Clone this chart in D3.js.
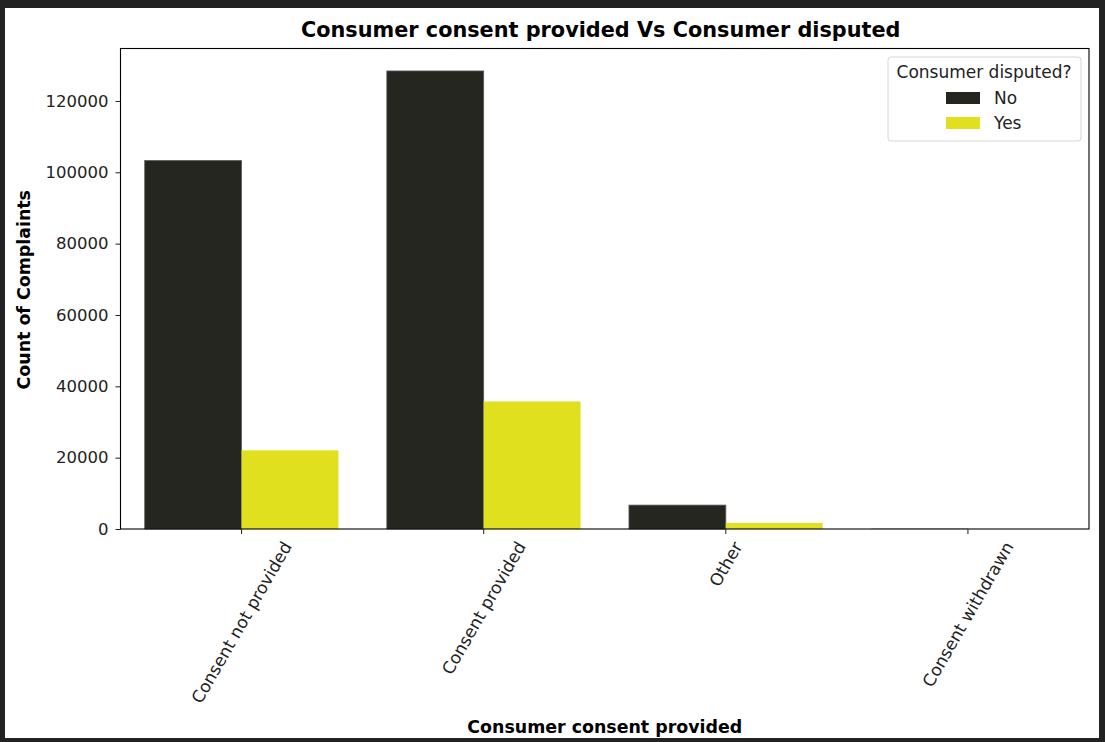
<!DOCTYPE html>
<html>
<head>
<meta charset="utf-8">
<script src="https://cdn.jsdelivr.net/npm/d3@7"></script>
<style>
  html, body { margin: 0; padding: 0; background: #222222; }
  svg { display: block; font-family: "DejaVu Sans", sans-serif; }
</style>
</head>
<body>
<svg id="chart" width="1105" height="742"></svg>
<script>
const categories = ["Consent not provided", "Consent provided", "Other", "Consent withdrawn"];
const groups = ["No", "Yes"];
const noCounts = [103300, 128400, 6700, 60];
const yesCounts = [22050, 35750, 1700, 15];
const yTicks = [0, 20000, 40000, 60000, 80000, 100000, 120000];
const colors = { No: "#262621", Yes: "#e0e01f" };

const svg = d3.select("#chart");
svg.append("rect").attr("x", 5).attr("y", 8).attr("width", 1094).attr("height", 730).attr("fill", "#fff");

const m = { left: 120.5, right: 1089, top: 48.5, bottom: 529 };
const fs = 16.5;
const fsX = 17;

const x = d3.scaleBand().domain(categories).range([m.left, m.right]).paddingInner(0.2).paddingOuter(0.1);
const xInner = d3.scaleBand().domain(groups).range([0, x.bandwidth()]);
const y = d3.scaleLinear().domain([0, 134700]).range([m.bottom, m.top]);

const rows = categories.map((c, i) => ({ cat: c, No: noCounts[i], Yes: yesCounts[i] }));

svg.append("g")
  .selectAll("g")
  .data(rows)
  .join("g")
  .attr("transform", d => `translate(${x(d.cat)},0)`)
  .selectAll("rect")
  .data(d => groups.map(g => ({ g, v: d[g] })))
  .join("rect")
  .attr("x", d => xInner(d.g))
  .attr("width", xInner.bandwidth())
  .attr("y", d => y(d.v))
  .attr("height", d => y(0) - y(d.v))
  .attr("fill", d => colors[d.g])
  .attr("stroke", d => d.g === "No" && y(0) - y(d.v) > 2 ? "#5a5a56" : "none")
  .attr("stroke-width", 0.8);

// frame
svg.append("rect")
  .attr("x", m.left).attr("y", m.top)
  .attr("width", m.right - m.left).attr("height", m.bottom - m.top)
  .attr("fill", "none").attr("stroke", "#000").attr("stroke-width", 1.1);

// y axis
const yAxis = svg.append("g")
  .attr("transform", `translate(${m.left},0)`)
  .call(d3.axisLeft(y).tickValues(yTicks).tickFormat(d3.format("d")).tickSize(5).tickPadding(7));
yAxis.select(".domain").remove();
yAxis.selectAll("text").attr("font-size", fs).attr("fill", "#222").attr("font-family", "DejaVu Sans");
yAxis.selectAll("line").attr("stroke", "#222");

// x axis
const xAxis = svg.append("g")
  .attr("transform", `translate(0,${m.bottom})`)
  .call(d3.axisBottom(x).tickSize(5).tickPadding(0));
xAxis.select(".domain").remove();
xAxis.selectAll("line").attr("stroke", "#222");
xAxis.selectAll("text")
  .attr("font-size", fsX)
  .attr("fill", "#222")
  .attr("font-family", "DejaVu Sans")
  .attr("text-anchor", "middle")
  .attr("dy", null)
  .attr("y", null)
  .each(function () {
    const t = d3.select(this);
    const w = this.getComputedTextLength();
    const a = Math.PI / 3;
    const bh = w * Math.sin(a) + fsX * Math.cos(a);
    t.attr("transform", `translate(0,${10 + bh / 2}) rotate(-60)`).attr("dy", "0.35em");
  });

// title and labels
svg.append("text")
  .attr("x", (m.left + m.right) / 2 - 4).attr("y", 37)
  .attr("text-anchor", "middle").attr("font-weight", "bold").attr("font-size", 20.8)
  .text("Consumer consent provided Vs Consumer disputed");

svg.append("text")
  .attr("x", (m.left + m.right) / 2).attr("y", 733)
  .attr("text-anchor", "middle").attr("font-weight", "bold").attr("font-size", 17.4)
  .text("Consumer consent provided");

svg.append("text")
  .attr("transform", `translate(30,${(m.top + m.bottom) / 2 + 1}) rotate(-90)`)
  .attr("text-anchor", "middle").attr("font-weight", "bold").attr("font-size", 17.4)
  .text("Count of Complaints");

// legend
const lg = svg.append("g");
lg.append("rect")
  .attr("x", 888).attr("y", 57).attr("width", 193).attr("height", 84).attr("rx", 3)
  .attr("fill", "#fff").attr("stroke", "#d6d6d6");
lg.append("text")
  .attr("x", 984).attr("y", 78)
  .attr("text-anchor", "middle").attr("font-size", 17).attr("fill", "#222")
  .text("Consumer disputed?");
groups.forEach((g, i) => {
  lg.append("rect")
    .attr("x", 946).attr("y", 92 + i * 25).attr("width", 34).attr("height", 12)
    .attr("fill", colors[g]);
  lg.append("text")
    .attr("x", 994).attr("y", 104 + i * 25)
    .attr("font-size", 17).attr("fill", "#222")
    .text(g);
});
</script>
</body>
</html>
